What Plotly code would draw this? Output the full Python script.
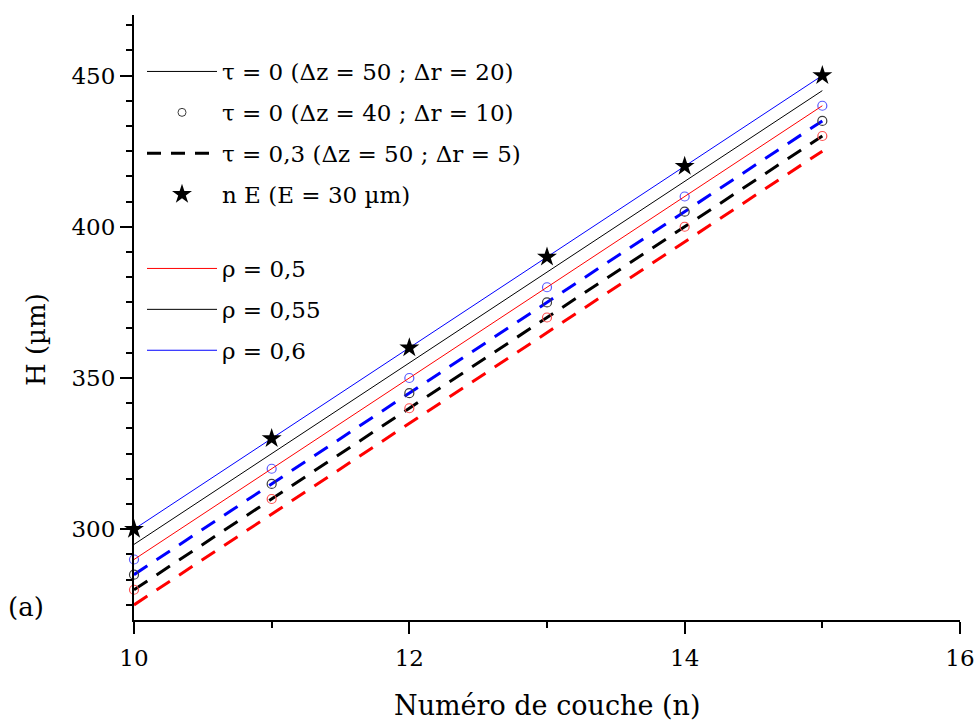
import plotly.graph_objects as go

n = [10, 11, 12, 13, 14, 15]
nE = [300, 330, 360, 390, 420, 450]

# tau = 0 (dz=50 ; dr=20), solid lines
solid_05 = [290, 320, 350, 380, 410, 440]
solid_055 = [295, 325, 355, 385, 415, 445]
solid_06 = [300, 330, 360, 390, 420, 450]

# tau = 0 (dz=40 ; dr=10), circles
circ_05 = [280, 310, 340, 370, 400, 430]
circ_055 = [285, 315, 345, 375, 405, 435]
circ_06 = [290, 320, 350, 380, 410, 440]

# tau = 0.3 (dz=50 ; dr=5), dashed
dash_05 = [275, 305, 335, 365, 395, 425]
dash_055 = [280, 310, 340, 370, 400, 430]
dash_06 = [285, 315, 345, 375, 405, 435]

RED = "#ff0000"
BLACK = "#000000"
BLUE = "#0000ff"
FONT = "DejaVu Serif"

# body margin removed by post_script: figure occupies the full window
W, H = 978, 722
PL, PR, PT, PB = 134, 960, 15, 620  # plot area in screen pixels
L, T = PL, PT
R, B = W - PR, H - PB
PW, PH = PR - PL, PB - PT


def px_x(sx):
    return (sx - PL) / PW


def px_y(sy):
    return (PB - sy) / PH


fig = go.Figure()

for ys, c in [(dash_05, RED), (dash_055, BLACK), (dash_06, BLUE)]:
    fig.add_trace(go.Scatter(x=n, y=ys, mode="lines", line=dict(color=c, width=3, dash="16px,11px"),
                             showlegend=False, cliponaxis=False))

for ys, c in [(circ_05, "rgb(255,80,80)"), (circ_055, "rgb(60,60,60)"), (circ_06, "rgb(90,90,255)")]:
    fig.add_trace(go.Scatter(x=n, y=ys, mode="markers",
                             marker=dict(symbol="circle-open", size=9, color=c, line=dict(width=1.2)),
                             showlegend=False, cliponaxis=False))

fig.add_trace(go.Scatter(x=[None], y=[None], mode="lines", line=dict(color=BLACK, width=1),
                         name="τ = 0 (Δz = 50 ; Δr = 20)", legend="legend", legendgroup="a"))
fig.add_trace(go.Scatter(x=[None], y=[None], mode="markers",
                         marker=dict(symbol="circle-open", size=8, color="rgb(60,60,60)", line=dict(width=1)),
                         name="τ = 0 (Δz = 40 ; Δr = 10)", legend="legend", legendgroup="b"))
fig.add_trace(go.Scatter(x=[None], y=[None], mode="lines", line=dict(color=BLACK, width=3, dash="14px,10px"),
                         name="τ = 0,3 (Δz = 50 ; Δr = 5)", legend="legend", legendgroup="c"))

for ys, c, nm, g in [(solid_05, RED, "ρ = 0,5", "e"), (solid_055, BLACK, "ρ = 0,55", "f"),
                     (solid_06, BLUE, "ρ = 0,6", "g")]:
    fig.add_trace(go.Scatter(x=n, y=ys, mode="lines", line=dict(color=c, width=1),
                             name=nm, legend="legend2", legendgroup=g, cliponaxis=False))

fig.add_trace(go.Scatter(x=n, y=nE, mode="markers", marker=dict(symbol="star", size=15, color=BLACK),
                         name="n E (E = 30 µm)", legend="legend", legendgroup="d", cliponaxis=False))

fig.update_layout(
    width=W, height=H,
    margin=dict(l=L, r=R, t=T, b=B, autoexpand=False),
    paper_bgcolor="white", plot_bgcolor="white",
    font=dict(family=FONT, color="black", size=23),
    legend=dict(x=px_x(142), y=px_y(50), xanchor="left", yanchor="top", bgcolor="rgba(0,0,0,0)", itemwidth=70,
                font=dict(family=FONT, size=23), tracegroupgap=8, traceorder="grouped"),
    legend2=dict(x=px_x(142), y=px_y(247), xanchor="left", yanchor="top", bgcolor="rgba(0,0,0,0)", itemwidth=70,
                 font=dict(family=FONT, size=23), tracegroupgap=8, traceorder="grouped"),
    xaxis=dict(range=[10, 16], tickvals=[10, 12, 14, 16], showgrid=False, zeroline=False, automargin=False,
               showline=True, linecolor="black", linewidth=2, ticks="outside", ticklen=12, tickwidth=2,
               tickcolor="black", tickfont=dict(size=23), ticklabelstandoff=4,
               minor=dict(tickvals=[11, 13, 15], ticks="outside", ticklen=6, tickwidth=2, tickcolor="black")),
    yaxis=dict(range=[270, 470], tickvals=[300, 350, 400, 450], showgrid=False, zeroline=False, automargin=False,
               showline=True, linecolor="black", linewidth=2, ticks="outside", ticklen=12, tickwidth=2,
               tickcolor="black", tickfont=dict(size=23),
               minor=dict(tick0=300, dtick=50 / 6, ticks="outside", ticklen=6, tickwidth=2, tickcolor="black")),
    annotations=[
        dict(text="(a)", x=px_x(6), y=px_y(607), xref="paper", yref="paper", showarrow=False,
             xanchor="left", yanchor="middle", font=dict(size=26)),
        dict(text="Numéro de couche (n)", x=0.5, y=px_y(705), xref="paper", yref="paper",
             showarrow=False, xanchor="center", yanchor="middle", font=dict(size=27)),
        dict(text="H (µm)", x=px_x(36), y=px_y(340), xref="paper", yref="paper",
             showarrow=False, xanchor="center", yanchor="middle", textangle=-90, font=dict(size=26)),
    ],
)

fig.write_html("out.html", config={"displayModeBar": False},
               post_script="document.body.style.margin='0';document.body.style.overflow='hidden';")
